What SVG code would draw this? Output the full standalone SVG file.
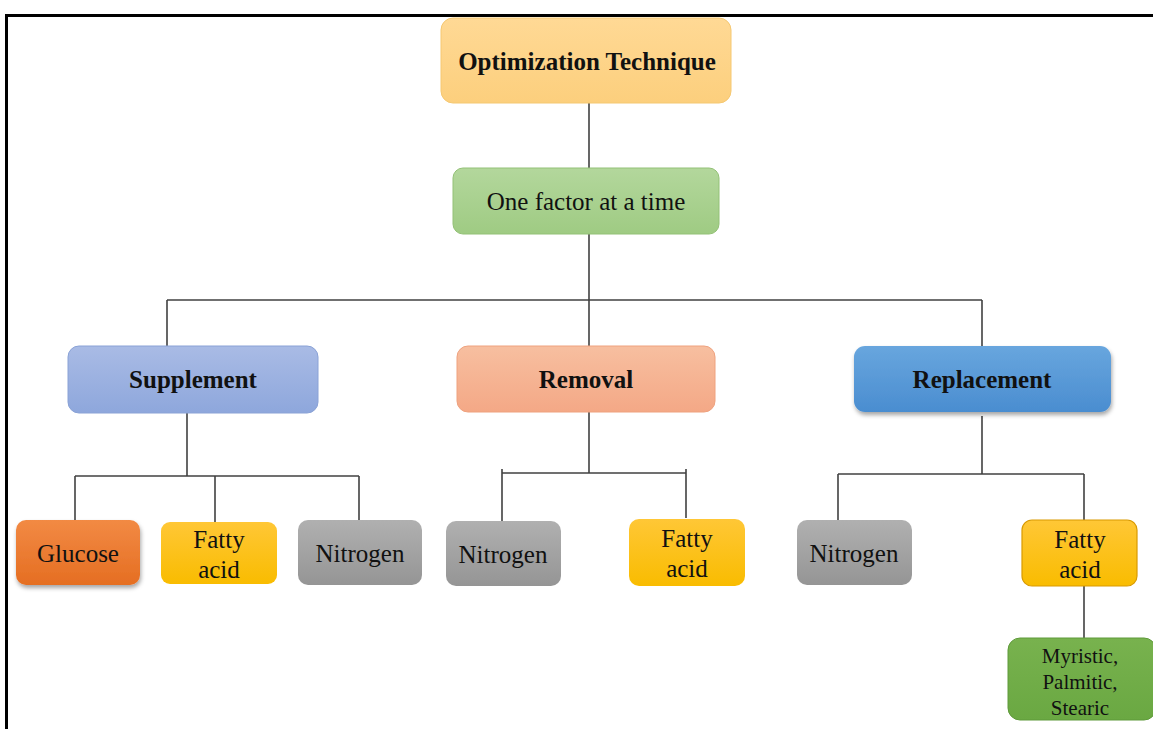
<svg xmlns="http://www.w3.org/2000/svg" width="1153" height="729" viewBox="0 0 1153 729">
<style>
text{font-family:"Liberation Serif","Times New Roman",serif;fill:#111;text-anchor:middle}
.b{font-weight:bold;font-size:25px}
.r{font-size:25px}
.s{font-size:21px}
.c line{stroke:#404040;stroke-width:1.6}
</style>
<defs>
<linearGradient id="gOrangeL" x1="0" y1="0" x2="0" y2="1"><stop offset="0" stop-color="#FFD995"/><stop offset="1" stop-color="#FCCF7D"/></linearGradient>
<linearGradient id="gGreenL" x1="0" y1="0" x2="0" y2="1"><stop offset="0" stop-color="#B3D79C"/><stop offset="1" stop-color="#9FCB83"/></linearGradient>
<linearGradient id="gBlueL" x1="0" y1="0" x2="0" y2="1"><stop offset="0" stop-color="#A9BBE5"/><stop offset="1" stop-color="#8EA7DC"/></linearGradient>
<linearGradient id="gSalmon" x1="0" y1="0" x2="0" y2="1"><stop offset="0" stop-color="#F7BFA0"/><stop offset="1" stop-color="#F4A886"/></linearGradient>
<linearGradient id="gBlue" x1="0" y1="0" x2="0" y2="1"><stop offset="0" stop-color="#68A6DE"/><stop offset="1" stop-color="#4A8DD0"/></linearGradient>
<linearGradient id="gOrange" x1="0" y1="0" x2="0" y2="1"><stop offset="0" stop-color="#F28A44"/><stop offset="1" stop-color="#E56E22"/></linearGradient>
<linearGradient id="gYellow" x1="0" y1="0" x2="0" y2="1"><stop offset="0" stop-color="#FFC736"/><stop offset="1" stop-color="#F9BC00"/></linearGradient>
<linearGradient id="gGray" x1="0" y1="0" x2="0" y2="1"><stop offset="0" stop-color="#B0B0B0"/><stop offset="1" stop-color="#959595"/></linearGradient>
<linearGradient id="gGreen" x1="0" y1="0" x2="0" y2="1"><stop offset="0" stop-color="#78B24E"/><stop offset="1" stop-color="#6AA842"/></linearGradient>
<filter id="sh" x="-10%" y="-10%" width="125%" height="140%"><feDropShadow dx="1" dy="3" stdDeviation="2" flood-color="#000" flood-opacity="0.35"/></filter>
</defs>
<rect width="1153" height="729" fill="#fff"/>
<g id="frame">
<line x1="5" y1="15.5" x2="1153" y2="15.5" stroke="#000" stroke-width="3"/>
<line x1="6.5" y1="14" x2="6.5" y2="729" stroke="#000" stroke-width="3"/>
</g>
<g class="c" id="connectors">
<line x1="589" y1="103" x2="589" y2="168"/>
<line x1="589" y1="234" x2="589" y2="346"/>
<line x1="167" y1="300" x2="982" y2="300"/>
<line x1="167" y1="300" x2="167" y2="346"/>
<line x1="982" y1="300" x2="982" y2="346"/>
<line x1="187" y1="413" x2="187" y2="476"/>
<line x1="75" y1="476" x2="359" y2="476"/>
<line x1="75" y1="476" x2="75" y2="520"/>
<line x1="215" y1="476" x2="215" y2="522"/>
<line x1="359" y1="476" x2="359" y2="520"/>
<line x1="589" y1="412" x2="589" y2="473"/>
<line x1="502" y1="473" x2="686" y2="473"/>
<line x1="502" y1="469" x2="502" y2="521"/>
<line x1="686" y1="469" x2="686" y2="518"/>
<line x1="982" y1="416" x2="982" y2="474"/>
<line x1="838" y1="474" x2="1084" y2="474"/>
<line x1="838" y1="474" x2="838" y2="520"/>
<line x1="1084" y1="474" x2="1084" y2="520"/>
<line x1="1084" y1="586" x2="1084" y2="638"/>
</g>
<g id="n-opt"><rect x="441" y="18" width="290" height="85" rx="12" fill="url(#gOrangeL)" stroke="#F5C872" stroke-width="1"/><text class="b" x="587" y="70">Optimization Technique</text></g>
<g id="n-ofat"><rect x="453" y="168" width="266" height="66" rx="10" fill="url(#gGreenL)" stroke="#93C176" stroke-width="1"/><text class="r" x="586" y="210">One factor at a time</text></g>
<g id="n-supp"><rect x="68" y="346" width="250" height="67" rx="11" fill="url(#gBlueL)" stroke="#8AA2D6" stroke-width="1"/><text class="b" x="193" y="388">Supplement</text></g>
<g id="n-rem"><rect x="457" y="346" width="258" height="66" rx="11" fill="url(#gSalmon)" stroke="#EFA27F" stroke-width="1"/><text class="b" x="586" y="388">Removal</text></g>
<g id="n-rep"><rect x="854" y="346" width="257" height="66" rx="11" fill="url(#gBlue)" filter="url(#sh)"/><text class="b" x="982" y="388">Replacement</text></g>
<g id="n-glu"><rect x="16" y="520" width="124" height="65" rx="10" fill="url(#gOrange)" filter="url(#sh)"/><text class="r" x="78" y="562">Glucose</text></g>
<g id="n-fa1"><rect x="161" y="522" width="116" height="62" rx="9" fill="url(#gYellow)"/><text class="r" x="219" y="548">Fatty</text><text class="r" x="219" y="578">acid</text></g>
<g id="n-ni1"><rect x="298" y="520" width="124" height="65" rx="10" fill="url(#gGray)"/><text class="r" x="360" y="562">Nitrogen</text></g>
<g id="n-ni2"><rect x="446" y="521" width="115" height="65" rx="10" fill="url(#gGray)"/><text class="r" x="503" y="563">Nitrogen</text></g>
<g id="n-fa2"><rect x="629" y="519" width="116" height="67" rx="10" fill="url(#gYellow)"/><text class="r" x="687" y="547">Fatty</text><text class="r" x="687" y="577">acid</text></g>
<g id="n-ni3"><rect x="797" y="520" width="115" height="65" rx="10" fill="url(#gGray)"/><text class="r" x="854" y="562">Nitrogen</text></g>
<g id="n-fa3"><rect x="1022" y="520" width="115" height="66" rx="10" fill="url(#gYellow)" stroke="#D99A00" stroke-width="1.2"/><text class="r" x="1080" y="548">Fatty</text><text class="r" x="1080" y="578">acid</text></g>
<g id="n-myr"><rect x="1008" y="638" width="148" height="82" rx="12" fill="url(#gGreen)" stroke="#5E9A3A" stroke-width="1"/><text class="s" x="1080" y="663">Myristic,</text><text class="s" x="1080" y="689">Palmitic,</text><text class="s" x="1080" y="715">Stearic</text></g>
</svg>
